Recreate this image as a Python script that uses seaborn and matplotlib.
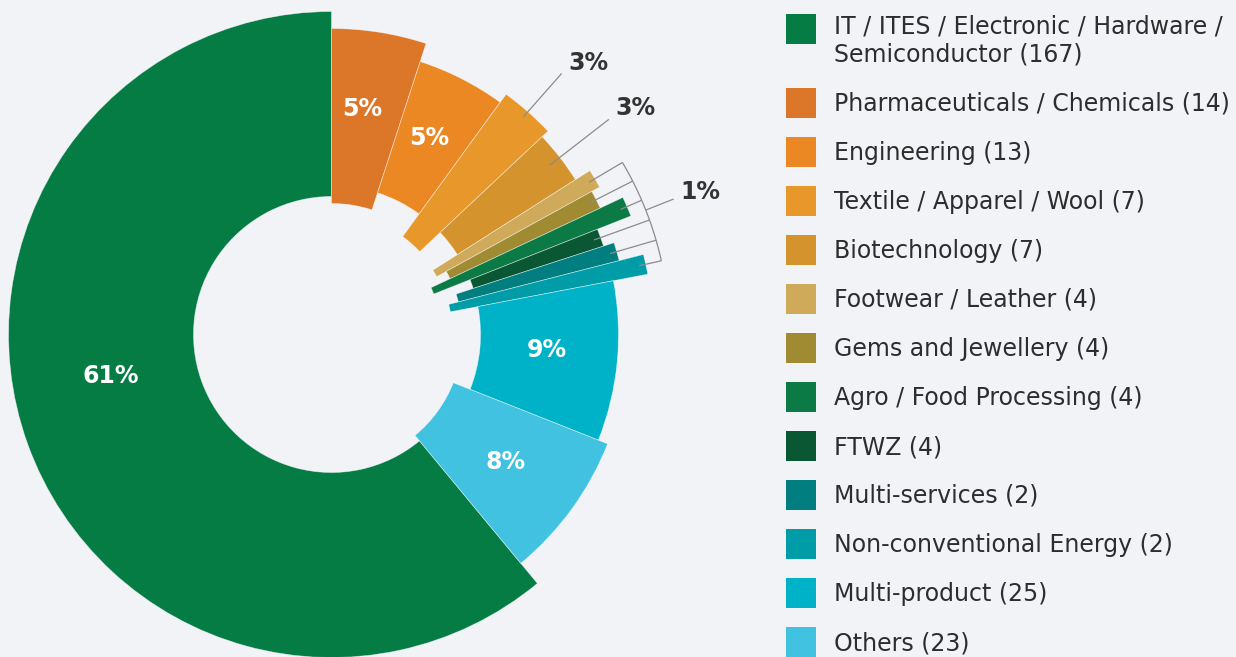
import numpy as np
import matplotlib
import matplotlib.pyplot as plt
from matplotlib.patches import Rectangle
import seaborn as sns

BG = "#F1F3F7"
sns.set_style("white", {"axes.facecolor": BG, "figure.facecolor": BG})
matplotlib.rcParams["font.family"] = ["DejaVu Sans"]

# data
sectors = ["IT / ITES / Electronic / Hardware /\nSemiconductor", "Pharmaceuticals / Chemicals",
           "Engineering", "Textile / Apparel / Wool", "Biotechnology", "Footwear / Leather",
           "Gems and Jewellery", "Agro / Food Processing", "FTWZ", "Multi-services",
           "Non-conventional Energy", "Multi-product", "Others"]
counts = [167, 14, 13, 7, 7, 4, 4, 4, 4, 2, 2, 25, 23]
shares = [61, 5, 5, 3, 3, 1, 1, 1, 1, 1, 1, 9, 8]   # rounded % used for slice angles

palette = sns.color_palette(["#067C45", "#DC772A", "#EC8823", "#E8982A", "#D4932D", "#CFAA5A",
                             "#A08A32", "#0B7A45", "#0A5734", "#007E80", "#009CA8", "#00B2C8",
                             "#40C2E0"])

# per-slice ring radii (pixels)
inner = [138, 131, 149, 121, 149, 120, 131, 110, 149, 131, 121, 149, 131]
outer = [323, 306, 287, 297, 289, 306, 297, 322, 286, 297, 322, 287, 297]

fig = plt.figure(figsize=(12.36, 6.57), dpi=100)

# polar axes placed so that 1 radial unit = 1 pixel, centre at (331.5, 334.5) px
W, H = 1236, 657
cx, cy = 331.5, H - 334.5
RM = 420
ax = fig.add_axes([(cx - RM) / W, (cy - RM) / H, 2 * RM / W, 2 * RM / H], projection="polar")
ax.set_theta_zero_location("N")
ax.set_theta_direction(-1)
ax.set_ylim(0, RM)
ax.grid(False)
ax.set_xticks([])
ax.set_yticks([])
ax.spines["polar"].set_visible(False)
ax.patch.set_visible(False)

widths = np.deg2rad(np.array(shares) * 3.6)
starts = -widths[0] + np.concatenate([[0], np.cumsum(widths)[:-1]])
mids = starts + widths / 2

ax.bar(starts, np.array(outer) - np.array(inner), width=widths, bottom=inner, align="edge",
       color=palette, edgecolor=(1, 1, 1, 0.55), linewidth=0.5)

# labels inside the big slices
inside = {0: (-100.6, 225), 1: (7.7, 228), 2: (26.4, 219), 11: (94.1, 216), 12: (126.2, 216)}
for i, (th, r) in inside.items():
    ax.text(np.deg2rad(th), r, f"{shares[i]}%", color="white", fontsize=17, fontweight="bold",
            ha="center", va="center")

line_kw = dict(color="#8C8C8C", lw=0.9, solid_capstyle="butt")
# leader lines for textile / biotech
for i, r0, r1, lab_th, lab_r in [(3, 290, 348, 43.4, 374), (4, 276, 351, 53.3, 379)]:
    ax.plot([mids[i], mids[i]], [r0, r1], **line_kw)
    ax.text(np.deg2rad(lab_th), lab_r, f"{shares[i]}%", color="#333333", fontsize=17,
            fontweight="bold", ha="center", va="center")

# bracket for the 1% slices
small = list(range(5, 11))
RB = 338
for i in small:
    ax.plot([mids[i], mids[i]], [outer[i] - 7, RB], **line_kw)
arc = np.linspace(mids[small[0]], mids[small[-1]], 60)
ax.plot(arc, np.full_like(arc, RB), **line_kw)
mid_b = (mids[small[0]] + mids[small[-1]]) / 2
ax.plot([mid_b, mid_b], [RB, 368], **line_kw)
ax.text(np.deg2rad(68.9), 395, "1%", color="#333333", fontsize=17, fontweight="bold",
        ha="center", va="center")

# legend drawn in pixel coordinates
lg = fig.add_axes([0, 0, 1, 1])
lg.set_xlim(0, W)
lg.set_ylim(H, 0)
lg.axis("off")
lg.patch.set_visible(False)
top = 14
for name, n, col in zip(sectors, counts, palette):
    lines = f"{name} ({n})".split("\n")
    lg.add_patch(Rectangle((786, top), 30, 30, color=col, lw=0))
    base = top + 23 - 3.7 * (len(lines) - 1)
    for j, ln in enumerate(lines):
        lg.text(834, base + j * 28.4, ln, fontsize=17, color="#2D2D2D", va="baseline", ha="left")
    top += 49 + 25 * (len(lines) - 1)

fig.savefig("out.png", dpi=100, facecolor=BG)
